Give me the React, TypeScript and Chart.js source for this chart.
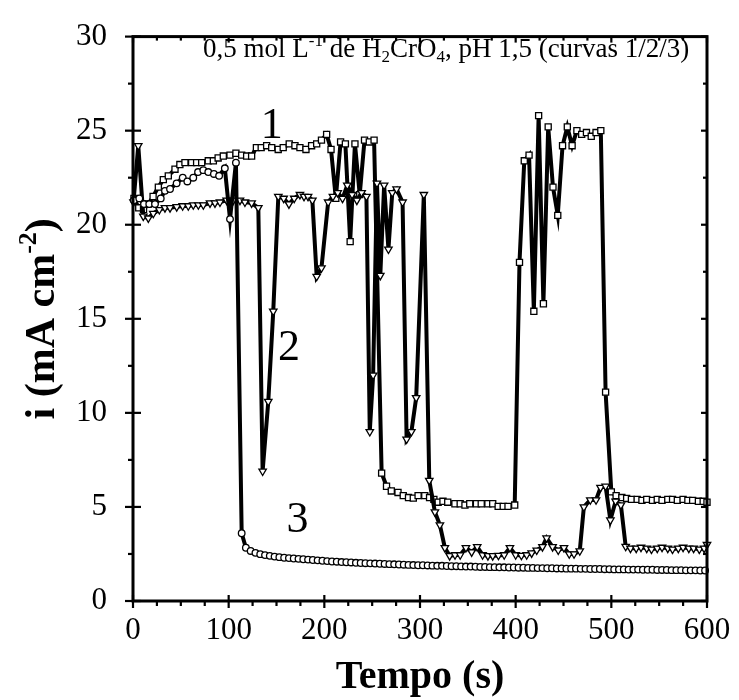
import { useEffect, useRef } from "react";
import { Chart, registerables } from "chart.js";

Chart.register(...registerables);

const SERIF = "'Liberation Serif', 'Times New Roman', Times, serif";

// Curva 1 (quadrados)
const tempo1 = [1, 6, 11, 16, 21, 26.5, 31.7, 36.9, 43.9, 49, 54.3, 61.3, 66.5, 71.8, 78.7, 84, 89, 94.4, 101.4, 107.6, 113.6, 118.8, 124, 129, 134, 139.7, 145, 151.8, 157, 163.3, 169.3, 174.5, 180.8, 186.7, 192, 197, 202.4, 207, 212, 217, 222, 227, 232, 237, 242, 247, 252, 259.9, 265, 270, 277, 282.5, 288, 293, 298, 305, 310, 314.5, 319, 324, 329, 336.5, 342, 347, 352, 359, 364, 371, 376, 381.7, 387, 392, 399, 404, 409, 414, 419, 424, 429, 434, 439, 444, 449, 454, 459, 464, 469, 474, 479, 484, 489, 494, 500, 505, 511, 516, 521, 527, 532, 537, 543, 548, 553, 559, 564, 569, 575, 580, 585, 591, 596, 600];
const corrente1 = [21.4, 20.9, 20.8, 21.1, 21.5, 22.0, 22.4, 22.6, 22.95, 23.2, 23.3, 23.3, 23.3, 23.3, 23.4, 23.4, 23.55, 23.65, 23.7, 23.8, 23.7, 23.65, 23.65, 24.1, 24.1, 24.2, 24.1, 24.0, 24.1, 24.3, 24.2, 24.1, 24.0, 24.2, 24.3, 24.5, 24.8, 24.0, 21.4, 24.4, 24.3, 19.1, 24.3, 21.6, 24.5, 24.4, 24.5, 6.8, 6.1, 5.85, 5.77, 5.6, 5.5, 5.47, 5.6, 5.6, 5.5, 5.4, 5.25, 5.3, 5.25, 5.17, 5.17, 5.1, 5.17, 5.17, 5.17, 5.17, 5.17, 5.03, 5.03, 5.03, 5.1, 18.0, 23.4, 23.7, 15.4, 25.8, 15.8, 25.2, 22.0, 20.5, 24.2, 25.2, 24.2, 25.0, 24.8, 24.9, 24.7, 24.9, 25.0, 11.1, 5.8, 5.6, 5.5, 5.45, 5.4, 5.4, 5.35, 5.4, 5.35, 5.4, 5.35, 5.4, 5.4, 5.35, 5.4, 5.35, 5.35, 5.3, 5.3, 5.25];

// Curva 2 (triângulos)
const tempo2 = [0.5, 5.5, 10.8, 16, 21.2, 27.5, 33.4, 38.7, 45.7, 51.9, 57.8, 63, 68.3, 73.5, 80.5, 85.7, 90.9, 97.9, 104.8, 111.8, 117, 124, 131, 135.5, 141.4, 146.6, 151.9, 157.5, 163, 168.5, 174.5, 178.8, 183, 187.5, 192, 197, 204, 209, 214, 219, 224, 229, 234, 239, 244, 247.5, 251, 255, 258.5, 262.5, 267, 271, 275.5, 281.8, 286, 291, 296, 304, 309.7, 315.6, 320.8, 326, 331, 336.6, 342, 348, 354, 359.8, 365.4, 371, 376, 382, 388, 394, 400, 406, 411.5, 416.7, 422, 428, 432.3, 438.6, 444.5, 450.5, 456, 461, 467, 471.3, 478, 484, 488.7, 494, 499, 504.5, 510, 515, 520, 526, 531, 537, 542, 548, 553, 559, 564, 570, 575, 581, 586, 592, 597, 600];
const corrente2 = [21.2, 24.2, 20.45, 20.35, 20.6, 20.8, 20.9, 20.9, 20.95, 21.0, 21.0, 21.05, 21.05, 21.05, 21.15, 21.15, 21.2, 21.3, 21.3, 21.3, 21.2, 21.15, 20.9, 6.9, 10.6, 15.4, 21.5, 21.4, 21.1, 21.4, 21.6, 21.5, 21.5, 21.3, 17.25, 17.7, 21.2, 21.5, 21.7, 21.4, 22.1, 21.6, 21.3, 21.7, 21.5, 9.0, 12.0, 22.2, 17.3, 22.1, 18.7, 21.7, 21.9, 21.2, 8.6, 9.0, 10.8, 21.6, 6.4, 4.73, 4.04, 2.83, 2.4, 2.45, 2.45, 2.83, 2.6, 2.88, 2.45, 2.4, 2.4, 2.42, 2.45, 2.83, 2.45, 2.42, 2.45, 2.55, 2.7, 2.88, 3.35, 2.88, 2.7, 2.83, 2.5, 2.5, 2.66, 5.0, 5.37, 5.37, 6.03, 6.1, 4.3, 5.3, 5.1, 2.9, 2.8, 2.8, 2.85, 2.8, 2.75, 2.8, 2.85, 2.8, 2.75, 2.8, 2.85, 2.8, 2.8, 2.75, 2.8, 3.0];

// Curva 3 (círculos)
const tempo3 = [1, 6.6, 11.5, 17, 23, 29, 33.4, 38.7, 45.6, 52, 56.8, 63, 68, 73.5, 78.7, 84.6, 90, 96, 101.4, 107.6, 113.6, 118, 123, 128, 133, 138, 143, 148, 153, 158, 163, 168, 173, 178, 183, 188, 193, 198, 203, 208, 213, 218, 223, 228, 233, 238, 243, 248, 253, 258, 263, 268, 273, 278, 283, 288, 293, 298, 303, 308, 313, 318, 323, 328, 333, 338, 343, 348, 353, 358, 363, 368, 373, 378, 383, 388, 393, 398, 403, 408, 413, 418, 423, 428, 433, 438, 443, 448, 453, 458, 463, 468, 473, 478, 483, 488, 493, 498, 503, 508, 513, 518, 523, 528, 533, 538, 543, 548, 553, 558, 563, 568, 573, 578, 583, 588, 593, 598];
const corrente3 = [21.3, 21.4, 21.1, 21.1, 21.1, 21.4, 21.8, 21.9, 22.2, 22.5, 22.3, 22.5, 22.8, 22.9, 22.8, 22.7, 22.6, 23.0, 20.3, 23.3, 3.6, 2.83, 2.66, 2.56, 2.49, 2.44, 2.4, 2.36, 2.33, 2.3, 2.28, 2.26, 2.24, 2.22, 2.2, 2.18, 2.16, 2.14, 2.12, 2.1, 2.09, 2.07, 2.06, 2.05, 2.03, 2.02, 2.01, 2.0, 1.99, 1.98, 1.97, 1.96, 1.95, 1.94, 1.93, 1.92, 1.91, 1.9, 1.9, 1.89, 1.88, 1.87, 1.87, 1.86, 1.85, 1.85, 1.84, 1.83, 1.83, 1.82, 1.81, 1.81, 1.8, 1.8, 1.79, 1.79, 1.78, 1.78, 1.77, 1.77, 1.76, 1.76, 1.75, 1.75, 1.74, 1.74, 1.73, 1.73, 1.72, 1.72, 1.72, 1.71, 1.71, 1.7, 1.7, 1.7, 1.69, 1.69, 1.68, 1.68, 1.68, 1.67, 1.67, 1.67, 1.66, 1.66, 1.66, 1.65, 1.65, 1.65, 1.64, 1.64, 1.64, 1.63, 1.63, 1.63, 1.62, 1.62];

// Rótulos das curvas [tempo, corrente]
const curveLabels = ["1", "2", "3"];
const curveLabelPos = [[145, 25.2], [163, 13.4], [172, 4.3]];

const xTicks = [0, 100, 200, 300, 400, 500, 600];
const yTicks = [0, 5, 10, 15, 20, 25, 30];

function pairs(xs: number[], ys: number[]) {
  return xs.map((x, i) => ({ x, y: ys[i] }));
}

type Seg = { t: string; m: "n" | "sup" | "sub" };

function drawSegs(ctx: CanvasRenderingContext2D, segs: Seg[], x: number, y: number, size: number, bold: boolean, align: "left" | "center") {
  const w = bold ? "bold " : "";
  const small = Math.round(size * 0.62);
  const widths = segs.map((s) => {
    ctx.font = `${w}${s.m === "n" ? size : small}px ${SERIF}`;
    return ctx.measureText(s.t).width;
  });
  const total = widths.reduce((a, b) => a + b, 0);
  let cx = align === "center" ? x - total / 2 : x;
  ctx.textBaseline = "alphabetic";
  ctx.textAlign = "left";
  segs.forEach((s, i) => {
    ctx.font = `${w}${s.m === "n" ? size : small}px ${SERIF}`;
    const dy = s.m === "sup" ? -size * 0.42 : s.m === "sub" ? size * 0.2 : 0;
    ctx.fillText(s.t, cx, y + dy);
    cx += widths[i];
  });
}

const decorPlugin = {
  id: "decor",
  afterDatasetsDraw(chart: any) {
    const { ctx, chartArea: a, scales } = chart;
    const xs = scales.x;
    const ys = scales.y;
    ctx.save();
    ctx.strokeStyle = "#000";
    ctx.fillStyle = "#000";
    ctx.lineWidth = 3;
    ctx.lineCap = "butt";
    ctx.strokeRect(a.left, a.top, a.right - a.left, a.bottom - a.top);

    ctx.lineWidth = 2.2;
    const line = (x1: number, y1: number, x2: number, y2: number) => {
      ctx.beginPath();
      ctx.moveTo(x1, y1);
      ctx.lineTo(x2, y2);
      ctx.stroke();
    };
    for (let i = 0; i < xTicks.length; i++) {
      const px = xs.getPixelForValue(xTicks[i]);
      line(px, a.bottom - 6, px, a.bottom + 7);
      line(px, a.top, px, a.top + 6);
      if (i < xTicks.length - 1) {
        const step = (xTicks[i + 1] - xTicks[i]) / 4;
        for (let k = 1; k < 4; k++) {
          const mp = xs.getPixelForValue(xTicks[i] + k * step);
          line(mp, a.bottom, mp, a.bottom + 5);
          line(mp, a.top, mp, a.top + 4);
        }
      }
    }
    for (let i = 0; i < yTicks.length; i++) {
      const py = ys.getPixelForValue(yTicks[i]);
      line(a.left - 8, py, a.left + 8, py);
      line(a.right - 6, py, a.right, py);
      if (i < yTicks.length - 1) {
        const mp = ys.getPixelForValue((yTicks[i] + yTicks[i + 1]) / 2);
        line(a.left - 5, mp, a.left, mp);
        line(a.right - 4, mp, a.right, mp);
      }
    }

    // rótulos das curvas
    ctx.font = `44px ${SERIF}`;
    ctx.textAlign = "center";
    ctx.textBaseline = "middle";
    curveLabels.forEach((t, i) => {
      const [tx, ty] = curveLabelPos[i];
      ctx.fillText(t, xs.getPixelForValue(tx), ys.getPixelForValue(ty));
    });

    // anotação
    drawSegs(
      ctx,
      [
        { t: "0,5 mol L", m: "n" },
        { t: "-1", m: "sup" },
        { t: " de H", m: "n" },
        { t: "2", m: "sub" },
        { t: "CrO", m: "n" },
        { t: "4", m: "sub" },
        { t: ", pH 1,5 (curvas 1/2/3)", m: "n" },
      ],
      203,
      57,
      27,
      false,
      "left"
    );

    // título eixo x
    ctx.font = `bold 40px ${SERIF}`;
    ctx.textAlign = "center";
    ctx.textBaseline = "alphabetic";
    ctx.fillText("Tempo (s)", (a.left + a.right) / 2, 688);

    // título eixo y
    ctx.save();
    ctx.translate(54, (a.top + a.bottom) / 2);
    ctx.rotate(-Math.PI / 2);
    drawSegs(
      ctx,
      [
        { t: "i (mA cm", m: "n" },
        { t: "-2", m: "sup" },
        { t: ")", m: "n" },
      ],
      0,
      0,
      42,
      true,
      "center"
    );
    ctx.restore();
    ctx.restore();
  },
};

export default function App() {
  const ref = useRef<HTMLCanvasElement | null>(null);
  useEffect(() => {
    if (!ref.current) return;
    const common = {
      showLine: true,
      borderColor: "#000",
      borderWidth: 4,
      pointBackgroundColor: "#fff",
      pointBorderColor: "#000",
      pointBorderWidth: 1.3,
      tension: 0,
      clip: false as any,
    };
    const chart = new Chart(ref.current, {
      type: "scatter",
      data: {
        datasets: [
          { ...common, label: "3", data: pairs(tempo3, corrente3), pointStyle: "circle", pointRadius: 3.3 },
          { ...common, label: "2", data: pairs(tempo2, corrente2), pointStyle: "triangle", pointRotation: 180, pointRadius: 4.3 },
          { ...common, label: "1", data: pairs(tempo1, corrente1), pointStyle: "rect", pointRadius: 4.3 },
        ],
      },
      options: {
        animation: false,
        responsive: false,
        devicePixelRatio: 1,
        layout: { padding: { left: 0, right: 32, top: 22, bottom: 0 } },
        plugins: { legend: { display: false }, tooltip: { enabled: false } },
        events: [],
        scales: {
          x: {
            type: "linear",
            min: 0,
            max: 600,
            afterFit: (s: any) => {
              s.height = 99;
            },
            afterBuildTicks: (s: any) => {
              s.ticks = xTicks.map((v) => ({ value: v }));
            },
            grid: { display: false },
            border: { display: false },
            ticks: { color: "#000", font: { family: SERIF, size: 31 }, padding: 3, maxRotation: 0, autoSkip: false },
          },
          y: {
            type: "linear",
            min: 0,
            max: 30,
            afterFit: (s: any) => {
              s.width = 133;
            },
            afterBuildTicks: (s: any) => {
              s.ticks = yTicks.map((v) => ({ value: v }));
            },
            grid: { display: false },
            border: { display: false },
            ticks: { color: "#000", font: { family: SERIF, size: 31 }, padding: 18 },
          },
        },
      },
      plugins: [decorPlugin],
    });
    return () => chart.destroy();
  }, []);
  return (
    <div style={{ position: "absolute", left: 0, top: 0, width: 739, height: 700, background: "#fff" }}>
      <canvas ref={ref} width={739} height={700} style={{ width: 739, height: 700, display: "block" }} />
    </div>
  );
}
